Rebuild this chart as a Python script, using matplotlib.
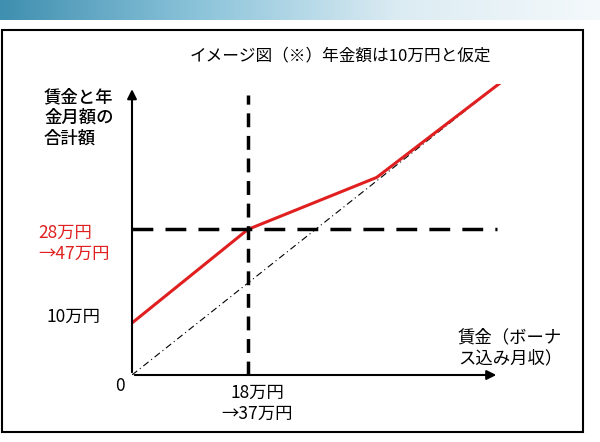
import matplotlib
matplotlib.use("Agg")
import matplotlib.pyplot as plt
import numpy as np
from matplotlib.patches import Rectangle
from matplotlib.colors import LinearSegmentedColormap

plt.rcParams['font.family'] = ['Noto Sans CJK JP', 'DejaVu Sans']

wage = [0, 18, 38, 57]
total = [10, 28, 38, 56]
diag_x = [0, 57]
diag_y = [0, 56]
cross_x = 18
cross_y = 28

W, H = 600, 442
fig = plt.figure(figsize=(6, 4.42), dpi=100)

def fx(px): return px / W
def fy(py): return 1 - py / H

gax = fig.add_axes([0, fy(20), 1, 20 / H])
grad = np.linspace(0, 1, 256)[None, :]
cm = LinearSegmentedColormap.from_list('g', ['#3f8fb0', '#8cc4da', '#dcecf3', '#f4f9fb'])
gax.imshow(grad, aspect='auto', cmap=cm)
gax.axis('off')

fig.patches.append(Rectangle((fx(2), fy(432)), fx(583) - fx(2), fy(30) - fy(432),
                             transform=fig.transFigure, fill=False, lw=1.5, ec='black'))

ox, oy = 132, 375
ax = fig.add_axes([fx(ox), fy(oy), 6.44 * 60 / W, 5.2 * 56 / H])
ax.set_xlim(0, 60)
ax.set_ylim(0, 56)
ax.axis('off')

ax.plot(diag_x, diag_y, color='black', lw=0.8, ls=(0, (6, 3, 1, 3)))
ax.plot(wage, total, color='#e02020', lw=2.2)
ax.plot([cross_x, cross_x], [0, 53.8], color='black', lw=2.5, ls=(0, (4, 2.5)))
ax.plot([0, 56.7], [cross_y, cross_y], color='black', lw=2.5, ls=(0, (6, 3.5)))
ax.annotate('', xy=(0, 55.5), xytext=(0, 0),
            arrowprops=dict(arrowstyle='-|>', lw=1.5, color='black', mutation_scale=14), annotation_clip=False)
ax.annotate('', xy=(57, 0), xytext=(0, 0),
            arrowprops=dict(arrowstyle='-|>', lw=1.5, color='black', mutation_scale=14), annotation_clip=False)

fs = 12.5
fig.text(fx(340), fy(56), 'イメージ図（※）年金額は10万円と仮定', ha='center', va='center', fontsize=12)
fig.text(fx(44), fy(88), '賃金と年\n金月額の\n合計額', ha='left', va='top', fontsize=fs, linespacing=1.2, weight='medium')
fig.text(fx(38), fy(243), '28万円\n→47万円', ha='left', va='center', fontsize=fs, color='#e02020', linespacing=1.2)
fig.text(fx(46), fy(317), '10万円', ha='left', va='center', fontsize=fs)
fig.text(fx(120), fy(386), '0', ha='center', va='center', fontsize=fs)
fig.text(fx(257), fy(403), '18万円\n→37万円', ha='center', va='center', fontsize=fs, linespacing=1.2)
fig.text(fx(458), fy(348), '賃金（ボーナ\nス込み月収）', ha='left', va='center', fontsize=fs, linespacing=1.2)

fig.savefig('out.png', dpi=100)
